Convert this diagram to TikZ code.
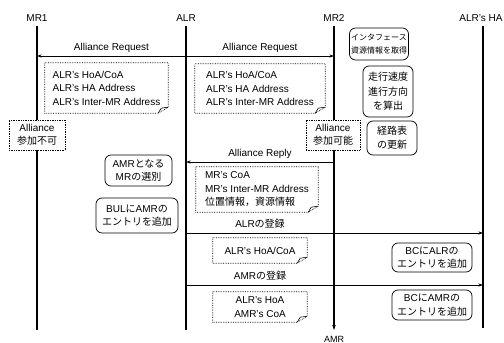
\documentclass[tikz,border=0pt]{standalone}
\usepackage{fontspec}
\setmainfont{Liberation Sans}
\newfontfamily\jp{Noto Sans CJK JP}
\newcommand\jt[1]{{\jp #1}}
\usetikzlibrary{arrows.meta}
\newcommand\notefold[1]{%
  \draw[densely dotted, line width=0.7pt] (#1.north west) -- (#1.north east) -- ([yshift=6pt]#1.south east) -- ([xshift=-10pt]#1.south east) -- (#1.south west) -- cycle;
  \draw[line width=0.6pt] ([xshift=-10pt]#1.south east) -- ([xshift=-7pt,yshift=5pt]#1.south east) -- ([yshift=6pt]#1.south east);
}
\begin{document}
\begin{tikzpicture}[x=1pt,y=-1pt, font=\fontsize{10}{13.5}\selectfont,
  life/.style={line width=1.1pt},
  msg/.style={line width=0.8pt,-{Stealth[length=4.5pt,width=3pt]}},
  head/.style={inner sep=0pt},
  lbl/.style={inner sep=0pt},
  note/.style={inner sep=0pt, align=left},
  cnote/.style={inner sep=0pt, align=center},
  sqbox/.style={draw, densely dotted, line width=0.7pt, fill=white, align=center, inner sep=0pt},
  rbox/.style={draw, rounded corners=6pt, fill=white, align=center, inner sep=0pt, line width=0.7pt},
]
\useasboundingbox (0,0) rectangle (504,343);

% lifeline heads
\node[head] (mr1) at (37,18) {MR1};
\node[head] (alr) at (186,18) {ALR};
\node[head] (mr2) at (334,18) {MR2};
\node[head] (ha) at (481,18) {ALR's HA};

\coordinate (mr1top) at (37,26);  \coordinate (mr1bot) at (37,330);
\coordinate (alrtop) at (186,26); \coordinate (alrbot) at (186,330);
\coordinate (mr2top) at (334,26); \coordinate (mr2bot) at (334,330);
\coordinate (hatop) at (483,26);  \coordinate (habot) at (483,328);

\draw[life] (mr1top) -- (mr1bot);
\draw[life] (alrtop) -- (alrbot);
\draw[life,-{Stealth[length=5pt,width=3.5pt]}] (mr2top) -- (mr2bot);
\draw[life] (hatop) -- (habot);
\node[head, font=\fontsize{9}{11}\selectfont] (amr) at (334,339) {AMR};

% messages
\coordinate (req-alr) at (186,56);
\coordinate (req-mr1) at (37,56);
\coordinate (req-mr2) at (334,56);
\draw[msg] (req-alr) -- node[lbl, above=3pt] {Alliance Request} (req-mr1);
\draw[msg] (req-alr) -- node[lbl, above=3pt] {Alliance Request} (req-mr2);

\coordinate (rep-mr2) at (334,162);
\coordinate (rep-alr) at (186,162);
\draw[msg] (rep-mr2) -- node[lbl, above=3pt] {Alliance Reply} (rep-alr);

\coordinate (reg1-alr) at (186,233);
\coordinate (reg1-ha) at (483,233);
\draw[msg] (reg1-alr) -- (reg1-ha);
\node[lbl] (reg1lbl) at (260,224) {ALR\jt{の登録}};

\coordinate (reg2-alr) at (186,285);
\coordinate (reg2-ha) at (483,285);
\draw[msg] (reg2-alr) -- (reg2-ha);
\node[lbl] (reg2lbl) at (260,276) {AMR\jt{の登録}};

% notes
\node[note, minimum width=123pt, minimum height=50pt] (n1) at (106.5,88) {ALR's HoA/CoA\\ALR's HA Address\\ALR's Inter-MR Address};
\notefold{n1}
\node[note, minimum width=130pt, minimum height=49pt] (n2) at (260,88.5) {ALR's HoA/CoA\\ALR's HA Address\\ALR's Inter-MR Address};
\notefold{n2}
\node[note, minimum width=122pt, minimum height=45pt] (n3) at (257,189.5) {MR's CoA\\MR's Inter-MR Address\\\jt{位置情報，資源情報}};
\notefold{n3}
\node[cnote, minimum width=94pt, minimum height=25pt] (n4) at (260,250.5) {ALR's HoA/CoA};
\notefold{n4}
\node[cnote, minimum width=94pt, minimum height=30pt] (n5) at (260,307) {ALR's HoA\\AMR's CoA};
\notefold{n5}

% square boxes
\node[sqbox, minimum width=56pt, minimum height=30pt] (ng) at (37,135) {Alliance\\\jt{参加不可}};
\node[sqbox, minimum width=54pt, minimum height=30pt] (ok) at (333,135) {Alliance\\\jt{参加可能}};

% rounded boxes
\node[rbox, minimum width=59pt, minimum height=32pt, font=\jp\fontsize{8}{12.5}\selectfont] (if) at (379,44) {インタフェース\\資源情報を取得};
\node[rbox, minimum width=50pt, minimum height=51pt, font=\jp\fontsize{10}{14.5}\selectfont] (sp) at (388,91.5) {走行速度\\進行方向\\を算出};
\node[rbox, minimum width=50pt, minimum height=34pt, font=\jp\fontsize{10}{14}\selectfont] (rt) at (392,138) {経路表\\の更新};
\node[rbox, minimum width=67pt, minimum height=31pt] (sel) at (138.5,170.5) {AMR\jt{となる}\\MR\jt{の選別}};
\node[rbox, minimum width=82pt, minimum height=35pt] (bul) at (137,215.5) {BUL\jt{に}AMR\jt{の}\\\jt{エントリを追加}};
\node[rbox, minimum width=80pt, minimum height=29pt] (bc1) at (432,257.5) {BC\jt{に}ALR\jt{の}\\\jt{エントリを追加}};
\node[rbox, minimum width=80pt, minimum height=30pt] (bc2) at (432,305) {BC\jt{に}AMR\jt{の}\\\jt{エントリを追加}};
\end{tikzpicture}
\end{document}
